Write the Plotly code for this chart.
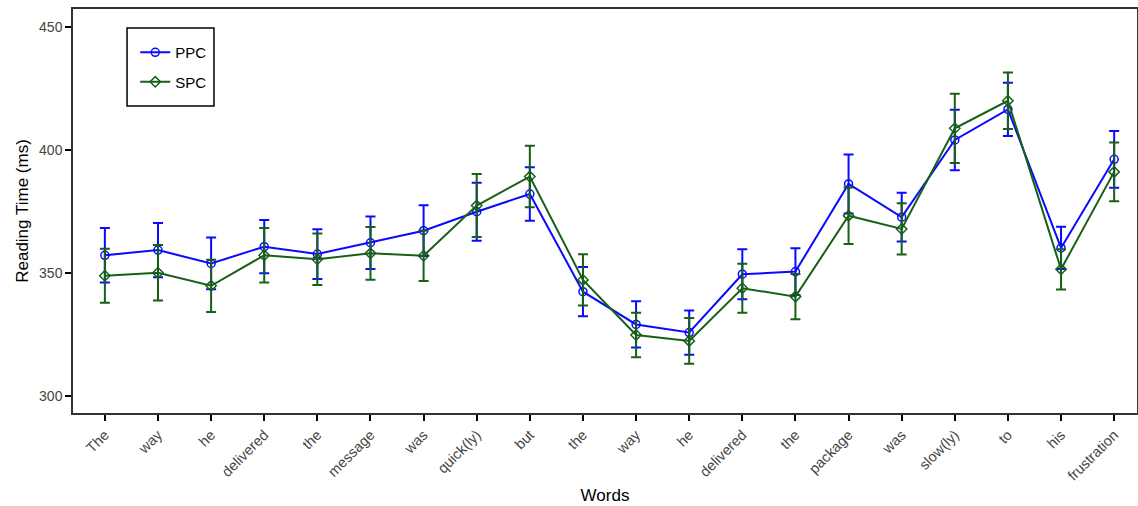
import plotly.graph_objects as go

words = ["The", "way", "he", "delivered", "the", "message", "was", "quick(ly)", "but",
         "the", "way", "he", "delivered", "the", "package", "was", "slow(ly)", "to", "his", "frustration"]

ppc_mean = [357.2, 359.3, 353.9, 360.7, 357.7, 362.3, 367.2, 374.9, 382.1, 342.4,
            329.1, 325.8, 349.5, 350.6, 386.2, 372.7, 404.1, 416.5, 360.2, 396.2]
ppc_err = [11.1, 11.0, 10.5, 10.8, 10.1, 10.7, 10.3, 11.8, 10.9, 10.0,
           9.4, 9.0, 10.2, 9.5, 12.0, 9.9, 12.3, 10.8, 8.6, 11.5]

spc_mean = [348.9, 350.1, 344.8, 357.2, 355.6, 358.0, 357.0, 377.4, 389.2, 347.2,
            324.8, 322.4, 343.8, 340.4, 373.3, 367.9, 408.8, 420.0, 351.5, 391.1]
spc_err = [11.0, 11.3, 10.6, 11.1, 10.5, 10.7, 10.3, 12.8, 12.5, 10.4,
           9.0, 9.3, 10.0, 9.2, 11.5, 10.4, 14.1, 11.5, 8.2, 11.9]

x_idx = list(range(len(words)))
blue = "#0a0aff"
green = "#176017"

fig = go.Figure()
fig.add_trace(go.Scatter(
    x=x_idx, y=ppc_mean, name="PPC", mode="lines+markers", legendgroup="a",
    line=dict(color=blue, width=2),
    marker=dict(symbol="circle-open", size=8, color=blue, line=dict(width=1.5)),
    error_y=dict(type="data", array=ppc_err, visible=True, color=blue, thickness=2, width=5),
))
fig.add_trace(go.Scatter(
    x=x_idx, y=spc_mean, name="SPC", mode="lines+markers", legendgroup="b",
    line=dict(color=green, width=2),
    marker=dict(symbol="diamond-open", size=8, color=green, line=dict(width=1.5)),
    error_y=dict(type="data", array=spc_err, visible=True, color=green, thickness=2, width=5),
))

# legend frame
fig.add_shape(type="rect", xref="paper", yref="paper",
              x0=0.0508, x1=0.1325, y0=0.760, y1=0.953,
              line=dict(color="black", width=1.5), fillcolor="rgba(0,0,0,0)", layer="above")

fig.update_layout(
    width=1138, height=506,
    margin=dict(l=73, r=1, t=9, b=93, autoexpand=False),
    plot_bgcolor="white", paper_bgcolor="white",
    font=dict(family="Liberation Sans, Arial, sans-serif", size=14, color="#444"),
    showlegend=True,
    legend=dict(x=0.0585, y=0.933, xanchor="left", yanchor="top",
                borderwidth=0, bgcolor="rgba(0,0,0,0)",
                font=dict(size=15, color="black"),
                tracegroupgap=7, itemwidth=30),
)
fig.update_xaxes(
    range=[-0.6, 19.43], tickmode="array", tickvals=x_idx, ticktext=words,
    tickangle=-45, ticks="outside", ticklen=6, tickwidth=1.5, tickcolor="black",
    showline=True, linecolor="#333", linewidth=1.5, mirror=True, showgrid=False, zeroline=False,
    automargin=False,
    title=dict(text="Words", font=dict(size=17, color="black"), standoff=6),
    tickfont=dict(size=14.5, color="#444"),
)
fig.update_yaxes(
    range=[293.1, 457.3], tickvals=[300, 350, 400, 450],
    ticks="outside", ticklen=6, tickwidth=1.5, tickcolor="black",
    showline=True, linecolor="#333", linewidth=1.5, mirror=True, showgrid=False, zeroline=False,
    automargin=False,
    title=dict(text="Reading Time (ms)", font=dict(size=17, color="black"), standoff=6),
    tickfont=dict(size=14, color="#444"),
)

fig.write_html("out.html", config={"displayModeBar": False},
               post_script="document.body.style.margin='0';document.body.style.overflow='hidden';")
